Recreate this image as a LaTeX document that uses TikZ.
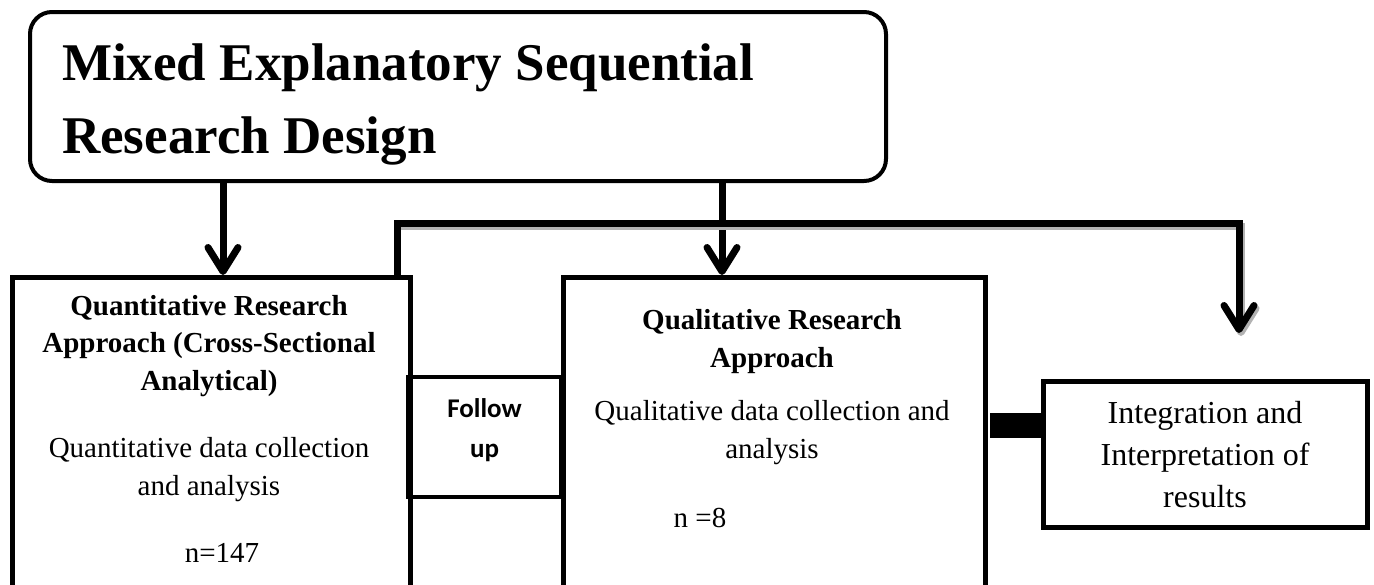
\documentclass[tikz,border=0pt]{standalone}
\usepackage{fontspec}
\setmainfont{Liberation Serif}
\newfontfamily\calibri{Carlito}
\usetikzlibrary{arrows.meta}
\begin{document}
\begin{tikzpicture}[x=1pt,y=-1pt,
  box/.style={draw, line width=4.5pt, inner sep=0pt, fill=none},
  arr/.style={line width=7pt, -{Straight Barb[length=24pt,width=30pt,line cap=round,line join=round]}},
  shadowarr/.style={line width=7pt, draw=gray!60, -{Straight Barb[length=24pt,width=30pt,line cap=round,line join=round]}},
  txt/.style={inner sep=0pt, anchor=base, align=center},
  headfont/.style={font=\bfseries\fontsize{29}{37.5}\selectfont},
  bodyfont/.style={font=\fontsize{29}{38}\selectfont}]
\useasboundingbox (0,0) rectangle (1374,584);
\clip (0,0) rectangle (1374,584);
\fill[white] (0,0) rectangle (1374,584);

% boxes
\node[box, line width=4pt, rounded corners=22pt, minimum width=856pt, minimum height=169pt] (title) at (458,96.5) {};
\node[box, minimum width=398pt, minimum height=340pt, anchor=north west] (quant) at (10,275) {};
\node[box, minimum width=422pt, minimum height=340pt, anchor=north west] (qual) at (561,275) {};
\node[box, line width=4pt, minimum width=153pt, minimum height=120pt] (follow) at (484.5,437) {};
\node[box, line width=5pt, minimum width=324pt, minimum height=146pt] (integ) at (1205,454) {};

% texts (base anchor = baseline of the last line)
\node[inner sep=0pt, anchor=base west, align=left, font=\bfseries\fontsize{53}{73}\selectfont] (titletext) at (62,153) {Mixed Explanatory Sequential\\Research Design};
\node[txt, headfont] (quanthead) at (209,390) {Quantitative Research\\Approach (Cross-Sectional\\Analytical)};
\node[txt, bodyfont] (quantbody) at (209,495) {Quantitative data collection\\and analysis};
\node[txt, bodyfont] (quantn) at (222,562) {n=147};
\node[txt, headfont] (qualhead) at (772,367) {Qualitative Research\\Approach};
\node[txt, bodyfont] (qualbody) at (772,458) {Qualitative data collection and\\analysis};
\node[txt, bodyfont] (qualn) at (700,527) {n =8};
\node[txt, font=\calibri\bfseries\fontsize{27}{40}\selectfont] (followtext) at (484.5,457) {Follow\\up};
\node[txt, font=\fontsize{32}{42}\selectfont] (integtext) at (1205,507) {Integration and\\Interpretation of\\results};

% arrows from title
\coordinate (a1) at (223,181);
\coordinate (a2) at (722,181);
\draw[arr] (a1) -- (a1 |- quant.north);
\draw[arr] (a2) -- (a2 |- qual.north);

% connector from quantitative box to integration
\coordinate (c1) at (397,275);
\coordinate (c2) at (397,223);
\coordinate (c3) at (1239,223);
\coordinate (c4) at (1239,333);
\draw[shadowarr] ([shift={(2,3)}]c2) -- ([shift={(2,3)}]c3) -- ([shift={(2,3)}]c4);
\draw[arr] (c1) -- (c2) -- (c3) -- (c4);

% thick link qualitative -> integration
\coordinate (l1) at (990,425.5);
\draw[line width=25pt] (l1) -- (l1 -| integ.west);
\end{tikzpicture}
\end{document}
